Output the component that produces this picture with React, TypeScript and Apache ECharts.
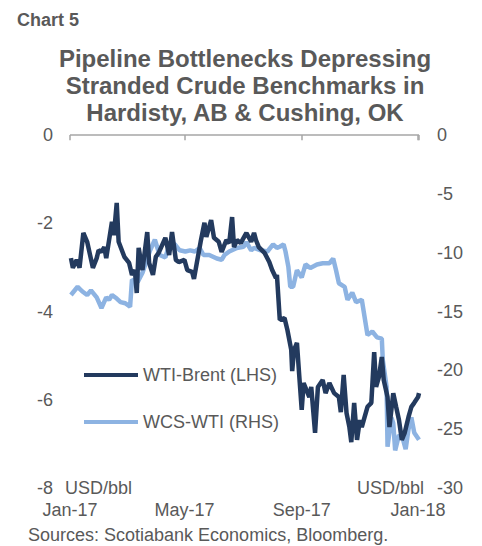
import React, { useEffect, useRef } from "react";
import * as echarts from "echarts";

const wtiBrentDates = [
  "2017-01-02","2017-01-04","2017-01-08","2017-01-11","2017-01-15","2017-01-19","2017-01-25","2017-01-29","2017-01-31",
  "2017-02-03","2017-02-06","2017-02-08","2017-02-11","2017-02-14","2017-02-16","2017-02-19","2017-02-21","2017-02-27",
  "2017-03-04","2017-03-07","2017-03-10","2017-03-12","2017-03-14","2017-03-18","2017-03-23","2017-03-25","2017-03-29",
  "2017-04-01","2017-04-04","2017-04-11","2017-04-15","2017-04-18","2017-04-22","2017-04-25",
  "2017-05-01","2017-05-04","2017-05-09","2017-05-11","2017-05-14","2017-05-18","2017-05-22","2017-05-24","2017-05-29",
  "2017-06-01","2017-06-06","2017-06-09","2017-06-14","2017-06-17","2017-06-20","2017-06-22","2017-06-25","2017-06-29",
  "2017-07-05","2017-07-10","2017-07-13","2017-07-15","2017-07-18","2017-07-24","2017-07-29",
  "2017-08-01","2017-08-05","2017-08-06","2017-08-09","2017-08-14","2017-08-17","2017-08-21","2017-08-22","2017-08-24","2017-08-27","2017-08-29",
  "2017-09-01","2017-09-03","2017-09-06","2017-09-09","2017-09-11","2017-09-15","2017-09-18","2017-09-23","2017-09-26","2017-09-30",
  "2017-10-05","2017-10-10","2017-10-12","2017-10-15","2017-10-18","2017-10-21","2017-10-23","2017-10-26","2017-10-29",
  "2017-11-01","2017-11-03","2017-11-06","2017-11-09","2017-11-13","2017-11-16","2017-11-18","2017-11-21","2017-11-24","2017-11-26","2017-11-30",
  "2017-12-02","2017-12-06","2017-12-09","2017-12-12","2017-12-15","2017-12-18","2017-12-22","2017-12-25","2017-12-28",
  "2018-01-01","2018-01-02"
];
const wtiBrentValues = [
  -2.79,-3.01,-2.83,-3.01,-2.22,-2.42,-3.01,-2.79,-2.61,
  -2.65,-2.54,-2.79,-2.38,-1.97,-2.27,-1.54,-2.42,-2.76,
  -2.90,-3.17,-3.06,-3.58,-2.56,-3.06,-2.20,-2.90,-3.17,
  -2.76,-2.67,-2.33,-2.72,-2.20,-2.83,-2.88,
  -2.83,-3.06,-3.10,-3.26,-2.90,-2.42,-1.99,-2.31,-1.93,
  -2.33,-2.42,-2.65,-2.38,-2.45,-1.86,-2.54,-2.38,-2.45,
  -2.22,-2.42,-2.22,-2.38,-2.54,-2.67,-2.88,
  -3.06,-3.24,-3.17,-4.19,-4.15,-4.42,-4.87,-5.35,-4.87,-4.71,-5.33,
  -6.23,-5.62,-5.78,-5.94,-5.71,-6.75,-5.71,-5.55,-5.85,-5.62,
  -5.85,-5.94,-6.28,-5.44,-6.30,-6.62,-6.96,-6.07,-6.91,
  -6.46,-6.62,-6.39,-6.16,-6.07,-4.92,-5.71,-5.48,-5.03,-5.55,-5.94,
  -6.62,-5.85,-6.16,-6.46,-6.91,-6.75,-6.39,-6.16,-6.07,
  -5.94,-5.85
];

const wcsWtiDates = [
  "2017-01-02","2017-01-09","2017-01-14","2017-01-19","2017-01-23","2017-01-29",
  "2017-02-03","2017-02-08","2017-02-11","2017-02-14","2017-02-19","2017-02-23","2017-02-28",
  "2017-03-05","2017-03-07","2017-03-13","2017-03-18","2017-03-21","2017-03-26","2017-03-31",
  "2017-04-05","2017-04-11","2017-04-16","2017-04-21","2017-04-26",
  "2017-05-02","2017-05-07","2017-05-12","2017-05-17","2017-05-21","2017-05-27",
  "2017-06-04","2017-06-09","2017-06-12","2017-06-17","2017-06-25",
  "2017-07-02","2017-07-05","2017-07-10","2017-07-13","2017-07-20","2017-07-27",
  "2017-08-02","2017-08-06","2017-08-09","2017-08-13","2017-08-15","2017-08-18","2017-08-20","2017-08-23","2017-08-27",
  "2017-09-01","2017-09-05","2017-09-10","2017-09-17","2017-09-23","2017-09-30",
  "2017-10-04","2017-10-07","2017-10-10","2017-10-16","2017-10-19","2017-10-24","2017-10-28",
  "2017-11-03","2017-11-06","2017-11-09","2017-11-14","2017-11-19","2017-11-24","2017-11-25","2017-11-29","2017-11-30",
  "2017-12-04","2017-12-06","2017-12-08","2017-12-12","2017-12-16","2017-12-19","2017-12-22","2017-12-25","2017-12-28",
  "2018-01-02"
];
const wcsWtiValues = [
  -13.6,-12.9,-13.3,-13.6,-13.2,-13.8,
  -14.7,-13.8,-14.0,-13.6,-13.9,-14.2,-14.3,
  -14.6,-12.3,-12.5,-11.7,-11.0,-9.8,-8.9,
  -10.2,-10.4,-9.1,-9.3,-9.8,
  -9.9,-9.8,-9.9,-9.6,-10.2,-10.2,
  -10.5,-10.6,-10.2,-9.9,-9.6,
  -9.5,-9.1,-9.8,-9.6,-9.8,-9.9,
  -9.3,-9.6,-9.5,-9.3,-9.9,-11.2,-12.9,-12.9,-11.5,
  -12.1,-11.0,-11.3,-11.0,-10.9,-10.9,
  -10.5,-11.5,-12.6,-12.9,-14.0,-13.4,-14.2,
  -14.0,-15.5,-17.0,-16.7,-17.2,-17.3,-19.1,-21.4,-26.5,
  -24.0,-24.5,-26.8,-25.5,-25.8,-26.7,-25.0,-24.0,-25.3,
  -25.9
];

const xTickDates = ["2017-01-01", "2017-05-01", "2017-09-01", "2018-01-01"];
const xTickLabels = ["Jan-17", "May-17", "Sep-17", "Jan-18"];
const xAxisStart = "2017-01-01";
const xAxisEnd = "2018-01-02";

const seriesNames = ["WTI-Brent (LHS)", "WCS-WTI (RHS)"];
const unitLabel = "USD/bbl";
const chartNumber = "Chart 5";
const chartTitle = "Pipeline Bottlenecks Depressing\nStranded Crude Benchmarks in\nHardisty, AB & Cushing, OK";
const sourceText = "Sources: Scotiabank Economics, Bloomberg.";

// days since the axis start (UTC, so no DST issues)
const toDay = (s: string) => {
  const [y, m, d] = s.split("-").map(Number);
  const [y0, m0, d0] = xAxisStart.split("-").map(Number);
  return Math.round((Date.UTC(y, m - 1, d) - Date.UTC(y0, m0 - 1, d0)) / 86400000);
};

const GRAY = "#595959";
const AXIS_GRAY = "#A6A6A6";
const DARK = "#233A5E";
const LIGHT = "#8DB3E2";
const FONT = "'Liberation Sans', Arial, sans-serif";
const TICK_DEPTH = 0.12; // tick mark depth in left-axis units

export default function App() {
  const ref = useRef<HTMLDivElement>(null);
  useEffect(() => {
    if (!ref.current) return;
    const chart = echarts.init(ref.current, undefined, { renderer: "svg" });
    const tickDays = xTickDates.map(toDay);
    const fmt = (v: number) => {
      const i = tickDays.indexOf(Math.round(v));
      return i >= 0 ? xTickLabels[i] : "";
    };
    const xMin = toDay(xAxisStart);
    const xMax = toDay(xAxisEnd);
    const axisMarks: any[] = [
      [{ coord: [xMin, 0] }, { coord: [xMax, 0] }],
      ...tickDays.map((d) => [{ coord: [d, 0] }, { coord: [d, -TICK_DEPTH] }]),
      [{ coord: [xMax, 0] }, { coord: [xMax, -TICK_DEPTH] }],
    ];
    const option: any = {
      animation: false,
      textStyle: { fontFamily: FONT },
      grid: { left: 70, right: 63, top: 135, bottom: 58, containLabel: false },
      legend: {
        orient: "vertical",
        left: 79,
        top: 361,
        icon: "rect",
        itemWidth: 54,
        itemHeight: 4,
        itemGap: 29,
        textStyle: { color: GRAY, fontSize: 18, fontFamily: FONT },
        data: seriesNames,
      },
      xAxis: [
        {
          type: "value",
          position: "bottom",
          min: xMin,
          max: xMax,
          axisLine: { show: false },
          axisTick: { show: false },
          axisLabel: {
            show: true,
            customValues: tickDays,
            formatter: fmt,
            color: GRAY,
            fontSize: 18,
            fontFamily: FONT,
            margin: 13,
            showMinLabel: true,
            showMaxLabel: true,
          },
          splitLine: { show: false },
        },
      ],
      yAxis: [
        {
          type: "value",
          min: -8,
          max: 0,
          interval: 2,
          position: "left",
          axisLine: { show: false },
          axisTick: { show: false },
          splitLine: { show: false },
          axisLabel: { color: GRAY, fontSize: 18, fontFamily: FONT, margin: 17 },
        },
        {
          type: "value",
          min: -30,
          max: 0,
          interval: 5,
          position: "right",
          axisLine: { show: false },
          axisTick: { show: false },
          splitLine: { show: false },
          axisLabel: { color: GRAY, fontSize: 18, fontFamily: FONT, margin: 18 },
        },
      ],
      series: [
        {
          name: seriesNames[1],
          type: "line",
          xAxisIndex: 0,
          yAxisIndex: 1,
          symbol: "none",
          data: wcsWtiDates.map((d, i) => [toDay(d), wcsWtiValues[i]]),
          lineStyle: { color: LIGHT, width: 4.5 },
          itemStyle: { color: LIGHT },
          z: 2,
        },
        {
          name: seriesNames[0],
          type: "line",
          xAxisIndex: 0,
          yAxisIndex: 0,
          symbol: "none",
          clip: false,
          data: wtiBrentDates.map((d, i) => [toDay(d), wtiBrentValues[i]]),
          lineStyle: { color: DARK, width: 4.5 },
          itemStyle: { color: DARK },
          z: 3,
          markLine: {
            silent: true,
            symbol: ["none", "none"],
            label: { show: false },
            emphasis: { disabled: true },
            lineStyle: { color: AXIS_GRAY, width: 1.5, type: "solid" },
            data: axisMarks,
          },
        },
      ],
      graphic: [
        {
          type: "text",
          x: 17,
          y: 20,
          style: { text: chartNumber, fill: GRAY, font: `bold 18px ${FONT}`, align: "left", verticalAlign: "middle" },
        },
        {
          type: "text",
          x: 245,
          y: 85,
          style: {
            text: chartTitle,
            fill: GRAY,
            font: `bold 24px ${FONT}`,
            lineHeight: 27,
            align: "center",
            verticalAlign: "middle",
          },
        },
        {
          type: "text",
          x: 65,
          y: 488,
          style: { text: unitLabel, fill: GRAY, font: `18px ${FONT}`, align: "left", verticalAlign: "middle" },
        },
        {
          type: "text",
          x: 424,
          y: 488,
          style: { text: unitLabel, fill: GRAY, font: `18px ${FONT}`, align: "right", verticalAlign: "middle" },
        },
        {
          type: "text",
          x: 28,
          y: 535,
          style: { text: sourceText, fill: GRAY, font: `18px ${FONT}`, align: "left", verticalAlign: "middle" },
        },
      ],
    };
    chart.setOption(option);
    return () => chart.dispose();
  }, []);
  return <div ref={ref} style={{ width: 482, height: 546, position: "absolute", left: 0, top: 0 }} />;
}
